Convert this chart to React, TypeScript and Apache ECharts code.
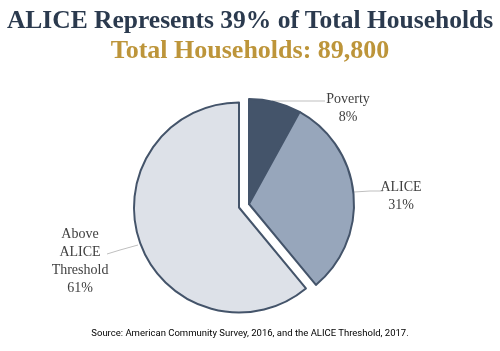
import React, { useEffect, useRef } from "react";
import * as echarts from "echarts";

const categories = ["Poverty", "ALICE", "Above ALICE Threshold"];
const labelTexts = ["Poverty", "ALICE", "Above\nALICE\nThreshold"];
const values = [8, 31, 61];
const colors = ["#44546A", "#97A6BB", "#DDE1E8"];
const titleText = "ALICE Represents 39% of Total Households";
const subtitleText = "Total Households: 89,800";
const sourceText = "Source: American Community Survey, 2016, and the ALICE Threshold, 2017.";

// label anchor positions [x, y] and leader line points per category
const labelPos: number[][] = [
  [348, 107],
  [401, 195],
  [80, 260],
];
const leaderLines: number[][][] = [
  [[272, 101], [300, 101], [325, 101]],
  [[354, 192], [370, 191], [383, 191]],
  [[138, 245], [120, 250], [107, 254]],
];

const serif = "'Liberation Serif', 'Times New Roman', serif";

export default function App() {
  const ref = useRef<HTMLDivElement>(null);
  useEffect(() => {
    const chart = echarts.init(ref.current!, null, { renderer: "svg" });
    // series 0: the un-exploded slice; series 1: the exploded slices
    const groups = [[2], [0, 1]];
    const catMaps: number[][] = [];
    const mkData = (show: number[], s: number) => {
      const hiddenSum = values.filter((_, i) => !show.includes(i)).reduce((a, b) => a + b, 0);
      const ph = {
        value: hiddenSum,
        name: "_ph",
        itemStyle: { color: "transparent", borderWidth: 0 },
        label: { show: false },
        labelLine: { show: false },
      };
      const out: any[] = [];
      const map: number[] = [];
      if (show[0] > 0) {
        out.push(ph);
        map.push(-1);
      }
      show.forEach((i) => {
        out.push({ value: values[i], name: categories[i], itemStyle: { color: colors[i] } });
        map.push(i);
      });
      if (show[0] === 0) {
        out.push(ph);
        map.push(-1);
      }
      catMaps[s] = map;
      return out;
    };
    const baseSeries = (center: number[], s: number) => ({
      type: "pie",
      center,
      radius: 105,
      startAngle: 90,
      clockwise: true,
      silent: true,
      animation: false,
      emphasis: { disabled: true },
      itemStyle: { borderColor: "#44546A", borderWidth: 2 },
      label: {
        show: true,
        formatter: (p: any) => {
          const i = categories.indexOf(p.name);
          return i < 0 ? "" : labelTexts[i] + "\n" + values[i] + "%";
        },
        fontFamily: serif,
        fontSize: 14,
        lineHeight: 18,
        color: "#404040",
        align: "center",
      },
      labelLine: { show: true, lineStyle: { color: "#BFBFBF", width: 1 } },
      labelLayout: (p: any) => {
        const i = catMaps[p.seriesIndex] ? catMaps[p.seriesIndex][p.dataIndex] : -1;
        if (i === undefined || i < 0) return {};
        return {
          x: labelPos[i][0],
          y: labelPos[i][1],
          align: "center",
          verticalAlign: "middle",
          labelLinePoints: leaderLines[i],
        };
      },
      data: mkData(groups[s], s),
    });
    chart.setOption({
      animation: false,
      title: [
        {
          text: titleText,
          left: "center",
          top: 1,
          textStyle: { fontFamily: serif, fontSize: 25.5, fontWeight: "bold", color: "#2B3A4E" },
        },
        {
          text: subtitleText,
          left: "center",
          top: 31,
          textStyle: { fontFamily: serif, fontSize: 26, fontWeight: "bold", color: "#BD953A" },
        },
        {
          text: sourceText,
          left: "center",
          top: 322,
          textStyle: { fontFamily: "Roboto, sans-serif", fontSize: 9.5, fontWeight: "normal", color: "#000000" },
        },
      ],
      series: [baseSeries([239, 207.5], 0), baseSeries([249, 204], 1)],
    });
    return () => chart.dispose();
  }, []);
  return <div ref={ref} style={{ position: "fixed", left: 0, top: 0, width: 500, height: 351 }} />;
}
